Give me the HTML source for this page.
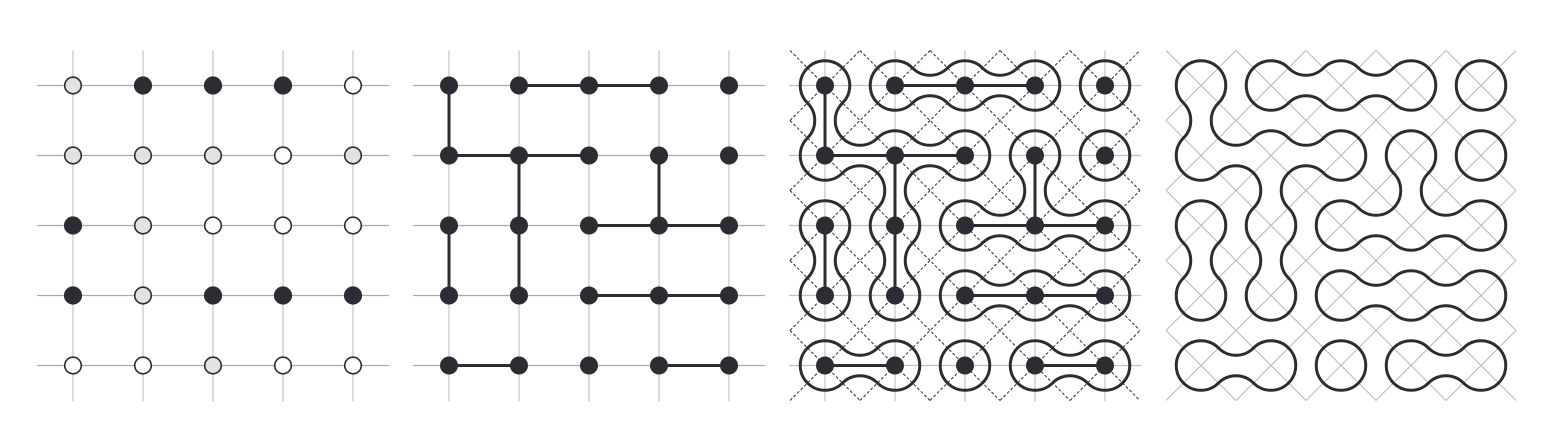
<!DOCTYPE html>
<html><head><meta charset="utf-8"><style>
html,body{margin:0;padding:0;background:#fff;overflow:hidden;width:1558px;height:424px;}
svg{display:block;}
</style></head><body>
<svg id="fig" width="1558" height="424" viewBox="0 0 1558 424" xmlns="http://www.w3.org/2000/svg">
</svg>
<script>
// data
const states = [
  ['L','D','D','D','W'],
  ['L','L','L','W','L'],
  ['D','L','W','W','W'],
  ['D','L','D','D','D'],
  ['W','W','L','W','W']
];
// horizontal edges: [row, colLeft]
const hEdges = [[0,1],[0,2],[1,0],[1,1],[2,2],[2,3],[3,2],[3,3],[4,0],[4,3]];
// vertical edges: [rowTop, col]
const vEdges = [[0,0],[2,0],[1,1],[2,1],[1,3]];
const panelX = [73,449,825,1201];
const Y0 = 85.5, S = 70, H = 17.5, R = 35*Math.SQRT1_2;
const DARK = '#2b2d33';
const svg = document.getElementById('fig');
const NS = 'http://www.w3.org/2000/svg';
function mk(tag, attrs, parent){
  const e = document.createElementNS(NS, tag);
  for (const k in attrs) e.setAttribute(k, attrs[k]);
  (parent||svg).appendChild(e);
  return e;
}
const hasH = (r,c)=>hEdges.some(e=>e[0]===r&&e[1]===c);
const hasV = (r,c)=>vEdges.some(e=>e[0]===r&&e[1]===c);

function grid(p, color){
  const x0 = panelX[p];
  const g = mk('g',{});
  
  
  for(let i=0;i<5;i++){
    mk('line',{x1:x0-36,x2:x0+316,y1:Y0+i*S,y2:Y0+i*S,stroke:color,'stroke-width':1.2},g);
    mk('line',{y1:Y0-35,y2:Y0+316,x1:x0+i*S,x2:x0+i*S,stroke:'#c4c4c4','stroke-width':1.2},g);
  }
}
function diagonals(p, color, dash, w){
  const x0 = panelX[p];
  const L=x0-35, Rt=x0+315, T=Y0-35, B=Y0+315;
  const g = mk('g',{});
  
  
  for(let k=-10;k<=14;k++){
    const c1 = (x0 - Y0) + 70*k; // y = x - c1
    let xa=Math.max(L,T+c1), xb=Math.min(Rt,B+c1);
    if(xb>xa){
      const a={x1:xa,y1:xa-c1,x2:xb,y2:xb-c1,stroke:color,'stroke-width':w};
      if(dash) a['stroke-dasharray']=dash;
      mk('line',a,g);
    }
    const c2 = (x0 + Y0) + 70*k; // y = c2 - x
    xa=Math.max(L,c2-B); xb=Math.min(Rt,c2-T);
    if(xb>xa){
      const b={x1:xa,y1:c2-xa,x2:xb,y2:c2-xb,stroke:color,'stroke-width':w};
      if(dash) b['stroke-dasharray']=dash;
      mk('line',b,g);
    }
  }
}
function arc(cx,cy,dx,dy){
  const px=-dy, py=dx;
  const x1=cx+H*(dx+px), y1=cy+H*(dy+py);
  const x2=cx+H*(dx-px), y2=cy+H*(dy-py);
  return 'M'+x1+' '+y1+' A'+R+' '+R+' 0 0 0 '+x2+' '+y2;
}
function loops(p){
  const x0 = panelX[p];
  let d='';
  const dirs=[[1,0],[-1,0],[0,1],[0,-1]];
  for(let r=0;r<5;r++)for(let c=0;c<5;c++){
    const X=x0+c*S, Y=Y0+r*S;
    for(const [dx,dy] of dirs){
      let present=false;
      if(dx===1) present = c<4 && hasH(r,c);
      if(dx===-1) present = c>0 && hasH(r,c-1);
      if(dy===1) present = r<4 && hasV(r,c);
      if(dy===-1) present = r>0 && hasV(r-1,c);
      if(!present) d+=arc(X,Y,dx,dy);
    }
  }
  for(const [r,c] of hEdges){
    const mx=x0+c*S+35, my=Y0+r*S;
    d+=arc(mx,my-35,0,1)+arc(mx,my+35,0,-1);
  }
  for(const [r,c] of vEdges){
    const mx=x0+c*S, my=Y0+r*S+35;
    d+=arc(mx-35,my,1,0)+arc(mx+35,my,-1,0);
  }
  const path = mk('path',{d:d,fill:'none',stroke:DARK,'stroke-width':3});
  
  
}
function edges(p){
  const x0 = panelX[p];
  for(const [r,c] of hEdges){
    const l = mk('line',{x1:x0+c*S,x2:x0+(c+1)*S,y1:Y0+r*S,y2:Y0+r*S,stroke:DARK,'stroke-width':3});
    
    
  }
  for(const [r,c] of vEdges){
    const l = mk('line',{x1:x0+c*S,x2:x0+c*S,y1:Y0+r*S,y2:Y0+(r+1)*S,stroke:DARK,'stroke-width':3});
    
    
  }
}
function dots(p, colored){
  const x0 = panelX[p];
  const fills={D:DARK,L:'#e2e2e2',W:'#ffffff'};
  for(let r=0;r<5;r++)for(let c=0;c<5;c++){
    const f = colored ? fills[states[r][c]] : DARK;
    const e = mk('circle',{cx:x0+c*S,cy:Y0+r*S,r:colored?8.3:9,fill:f,stroke:DARK,'stroke-width':colored?1.6:0});
    
    
  }
}
// panel 1
grid(0,'#aaaaaa'); dots(0,true);
// panel 2
grid(1,'#aaaaaa'); edges(1); dots(1,false);
// panel 3
grid(2,'#c0c0c0'); diagonals(2,DARK,'3,2',1); loops(2); edges(2); dots(2,false);
// panel 4
diagonals(3,'#b8b8b8',null,1); loops(3);
</script>
</body></html>
